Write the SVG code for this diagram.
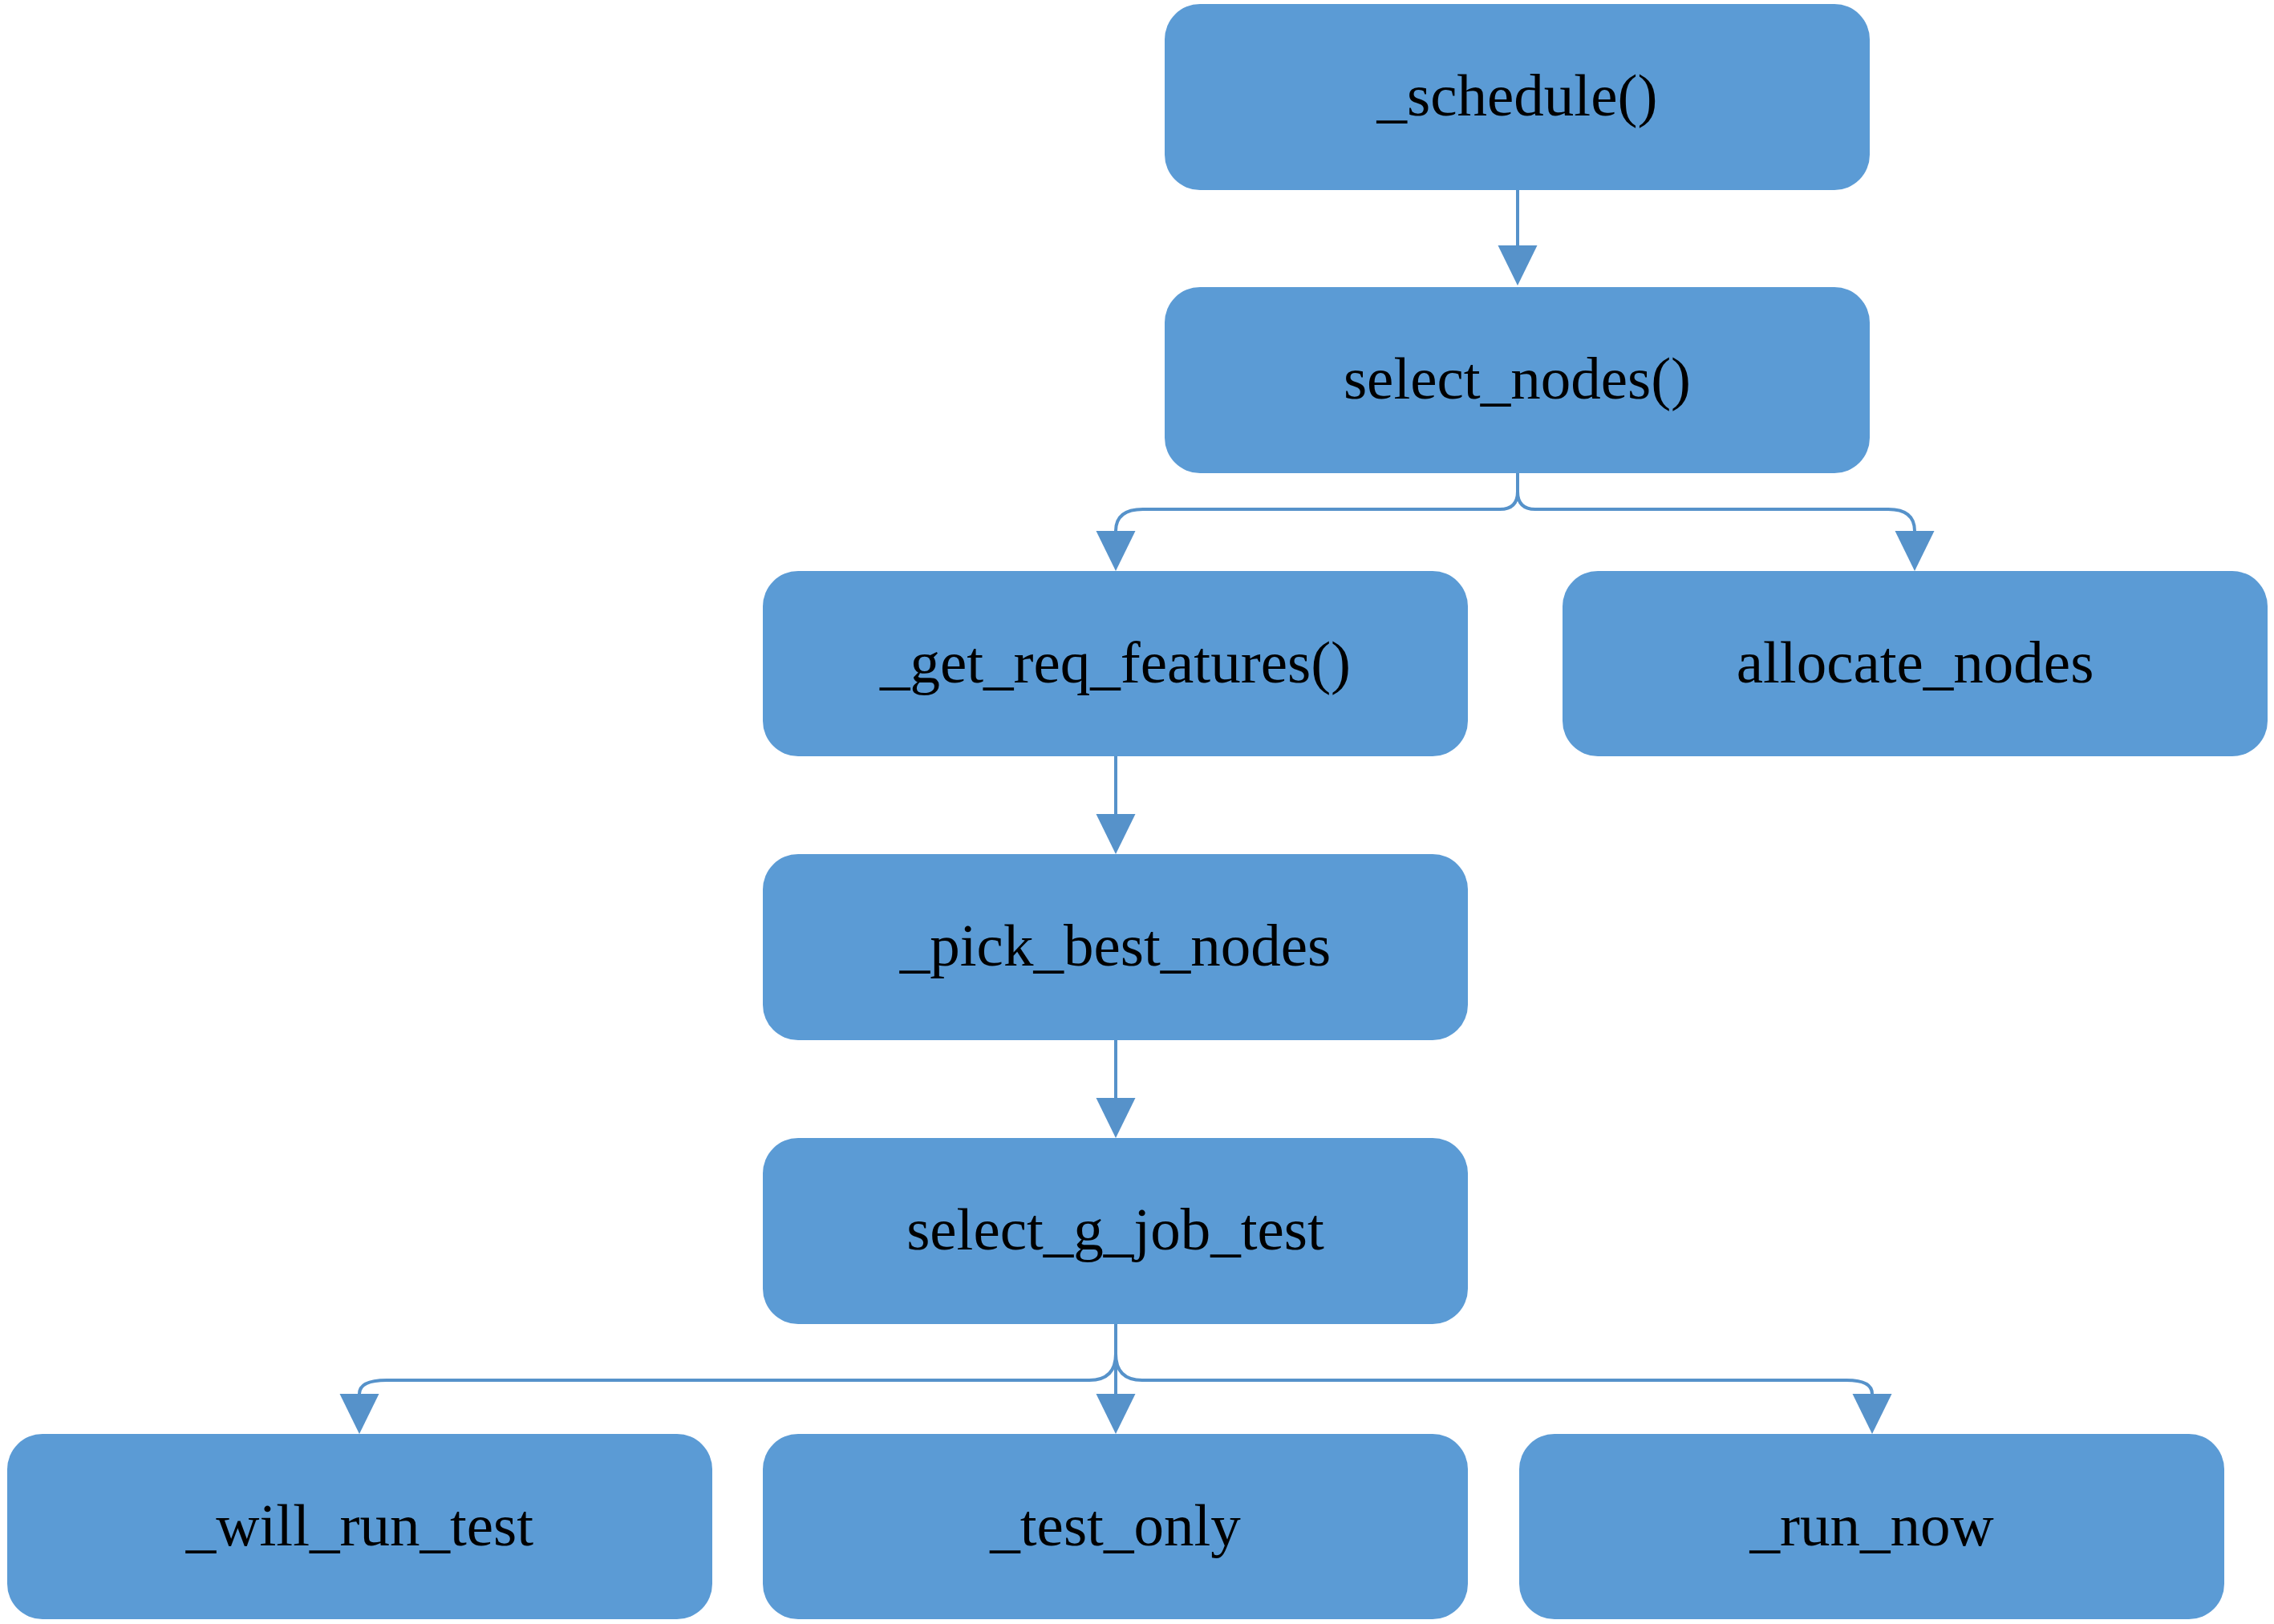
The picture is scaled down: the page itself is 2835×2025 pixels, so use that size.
<svg xmlns="http://www.w3.org/2000/svg" width="2835" height="2025" viewBox="0 0 2835 2025">
  <style>
    .box { fill: #5B9BD5; }
    .lbl { font-family: "Liberation Serif", "Times New Roman", serif; font-size: 75px; fill: #000000; text-anchor: middle; }
    .conn { fill: none; stroke: #5692CA; stroke-width: 4; marker-end: url(#arrow); }
  </style>
  <defs>
    <marker id="arrow" markerUnits="userSpaceOnUse" markerWidth="50" markerHeight="50" refX="0" refY="24.5" orient="auto" overflow="visible">
      <path d="M0,0 L50,24.5 L0,49 Z" fill="#5692CA"/>
    </marker>
  </defs>
  <rect width="2835" height="2025" fill="#FFFFFF"/>

  <g id="connectors">
    <path class="conn" d="M1892 237 V306"/>
    <path class="conn" d="M1892 590 V613 Q1892 635 1870 635 H1425 Q1391 635 1391 662"/>
    <path class="conn" d="M1892 590 V613 Q1892 635 1914 635 H2354 Q2387 635 2387 662"/>
    <path class="conn" d="M1391 943 V1015"/>
    <path class="conn" d="M1391 1297 V1369"/>
    <path class="conn" d="M1391 1651 V1688 Q1391 1721 1358 1721 H482 Q448 1721 448 1738"/>
    <path class="conn" d="M1391 1651 V1738"/>
    <path class="conn" d="M1391 1651 V1688 Q1391 1721 1424 1721 H2302 Q2334 1721 2334 1738"/>
  </g>

  <g id="node-schedule">
    <rect class="box" x="1452" y="5" width="879" height="232" rx="44" ry="44"/>
    <text class="lbl" x="1891.5" y="144">_schedule()</text>
  </g>
  <g id="node-select-nodes">
    <rect class="box" x="1452" y="358" width="879" height="232" rx="44" ry="44"/>
    <text class="lbl" x="1891.5" y="497">select_nodes()</text>
  </g>
  <g id="node-get-req-features">
    <rect class="box" x="951" y="712" width="879" height="231" rx="44" ry="44"/>
    <text class="lbl" x="1390.5" y="851">_get_req_features()</text>
  </g>
  <g id="node-allocate-nodes">
    <rect class="box" x="1948" y="712" width="879" height="231" rx="44" ry="44"/>
    <text class="lbl" x="2387.5" y="851">allocate_nodes</text>
  </g>
  <g id="node-pick-best-nodes">
    <rect class="box" x="951" y="1065" width="879" height="232" rx="44" ry="44"/>
    <text class="lbl" x="1390.5" y="1204">_pick_best_nodes</text>
  </g>
  <g id="node-select-g-job-test">
    <rect class="box" x="951" y="1419" width="879" height="232" rx="44" ry="44"/>
    <text class="lbl" x="1390.5" y="1558">select_g_job_test</text>
  </g>
  <g id="node-will-run-test">
    <rect class="box" x="9" y="1788" width="879" height="231" rx="44" ry="44"/>
    <text class="lbl" x="448.5" y="1927">_will_run_test</text>
  </g>
  <g id="node-test-only">
    <rect class="box" x="951" y="1788" width="879" height="231" rx="44" ry="44"/>
    <text class="lbl" x="1390.5" y="1927">_test_only</text>
  </g>
  <g id="node-run-now">
    <rect class="box" x="1894" y="1788" width="879" height="231" rx="44" ry="44"/>
    <text class="lbl" x="2333.5" y="1927">_run_now</text>
  </g>
</svg>
